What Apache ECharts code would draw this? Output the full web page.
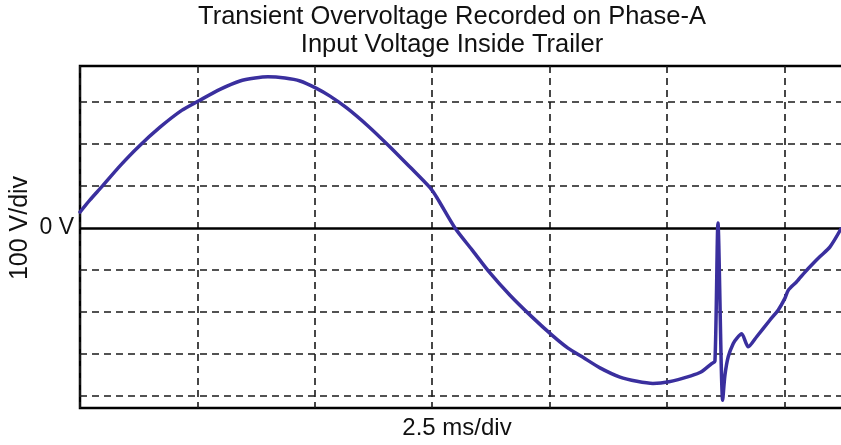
<!DOCTYPE html>
<html>
<head>
<meta charset="utf-8">
<script src="https://cdn.jsdelivr.net/npm/echarts@6/dist/echarts.min.js"></script>
<style>
html,body{margin:0;padding:0;background:#fff;}
#chart{width:841px;height:445px;}
</style>
</head>
<body>
<div id="chart"></div>
<script>
// Time in ms (2.5 ms/div), voltage in V (100 V/div)
const timeMs = [0.000,0.213,0.462,0.852,1.241,1.704,2.166,2.534,2.981,3.407,3.727,4.003,4.365,4.685,5.026,5.324,5.680,6.133,6.602,7.027,7.453,7.602,7.986,8.348,8.731,9.157,9.619,10.051,10.392,10.711,11.073,11.499,11.861,12.202,12.543,13.011,13.224,13.452,13.522,13.586,13.686,13.735,13.806,13.912,13.991,14.091,14.231,14.410,14.694,14.870,15.013,15.083,15.262,15.439,15.616,15.759,15.972,16.206];
const voltage = [38,67,98,148,193,240,280,303,330,350,357,360,357,350,333,314,286,243,193,145,96,72,0,-52,-107,-160,-211,-255,-286,-308,-333,-355,-365,-370,-366,-352,-343,-323,-317,12,-410,-350,-306,-275,-262,-252,-283,-259,-219,-195,-167,-148,-128,-105,-84,-68,-45,-2];
const hGridVolts = [-400,-300,-200,-100,100,200,300];
const titleLines = ['Transient Overvoltage Recorded on Phase-A','Input Voltage Inside Trailer'];
const xName = '2.5 ms/div';
const yName = '100 V/div';
const zeroLabel = '0 V';

const FONT = '"Liberation Sans", Arial, Helvetica, sans-serif';
const dash = {type:[7,5], color:'#1a1a1a', width:1.6};

const chart = echarts.init(document.getElementById('chart'), null, {renderer:'canvas'});
chart.setOption({
  backgroundColor:'#ffffff',
  animation:false,
  title:{
    text: titleLines.join('\n'),
    left: 452, top: 3, padding: 0, textAlign:'center',
    textStyle:{fontFamily:FONT, fontSize:25.5, fontWeight:'normal', color:'#111', lineHeight:28}
  },
  grid:{left:80, right:-3, top:66, bottom:37, outerBoundsMode:'none', containLabel:false,
        show:true, borderColor:'#000', borderWidth:2.5, backgroundColor:'#fff'},
  xAxis:{
    type:'value', min:0, max:16.27, interval:2.5,
    name:xName, nameLocation:'middle', nameGap:8,
    nameTextStyle:{fontFamily:FONT, fontSize:24, color:'#111', padding:[0,10,0,0]},
    axisLine:{show:false}, axisTick:{show:false}, axisLabel:{show:false},
    splitLine:{show:true, lineStyle:dash}
  },
  yAxis:{
    type:'value', min:-428.6, max:385.7,
    axisLine:{show:false}, axisTick:{show:false}, axisLabel:{show:false},
    splitLine:{show:false}
  },
  graphic:[{
    type:'text', x:20, y:228, rotation:Math.PI/2,
    style:{text:yName, fontFamily:FONT, fontSize:25, fill:'#111', textAlign:'center', textVerticalAlign:'middle'}
  }],
  series:[
    {
      type:'line', data:[], silent:true, z:1,
      markLine:{
        silent:true, symbol:['none','none'], animation:false,
        data: hGridVolts.map(v=>({yAxis:v, lineStyle:dash, label:{show:false}})).concat([
          {yAxis:0, lineStyle:{type:'solid', color:'#000', width:2.5},
           label:{show:true, position:'start', formatter:zeroLabel, distance:6, fontFamily:FONT, fontSize:23, color:'#111'}}
        ])
      }
    },
    {
      type:'line', z:5, showSymbol:false, smooth:0.25,
      data: timeMs.map((t,i)=>[t, voltage[i]]),
      lineStyle:{color:'#3a2f9e', width:3.5, join:'round', cap:'round'}
    }
  ]
});
</script>
</body>
</html>
